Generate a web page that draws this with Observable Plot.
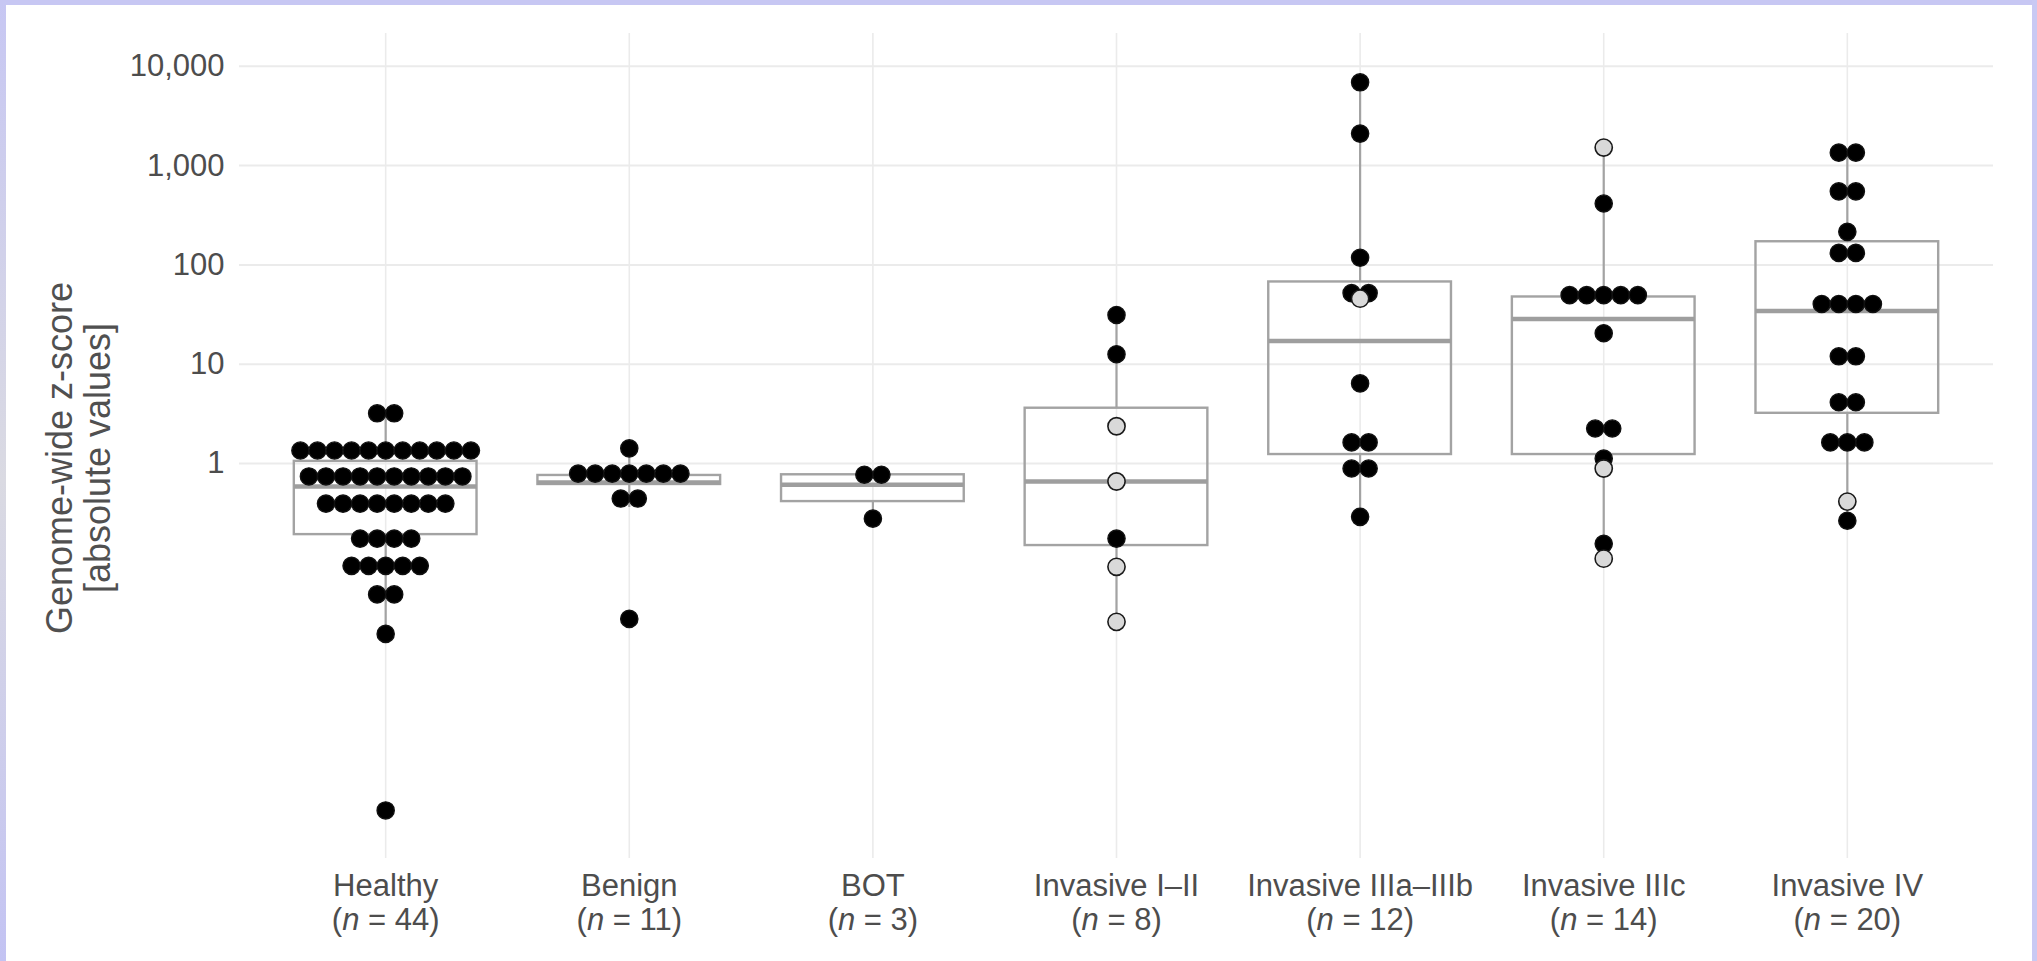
<!DOCTYPE html>
<html><head><meta charset="utf-8">
<script src="https://cdn.jsdelivr.net/npm/d3@7"></script>
<script src="https://cdn.jsdelivr.net/npm/@observablehq/plot@0.6"></script>
<style>
html,body{margin:0;padding:0;background:#fff;width:2037px;height:961px;overflow:hidden;}
#chart{position:absolute;left:0;top:0;}
.b{position:absolute;}
</style></head><body>
<div id="chart"></div>
<div class="b" style="left:0;top:0;width:2037px;height:5px;background:#c7c7f3"></div>
<div class="b" style="left:0;top:0;width:6px;height:961px;background:linear-gradient(#c7c7f3,#dadae2 50%,#c3c3f3)"></div>
<div class="b" style="right:0;top:0;width:5px;height:961px;background:#c9c9f3"></div>
<script>
// ---- data ----
const categories = ["Healthy", "Benign", "BOT", "Invasive I\u2013II", "Invasive IIIa\u2013IIIb", "Invasive IIIc", "Invasive IV"];
const sampleSizes = [44, 11, 3, 8, 12, 14, 20];
const yTicks = [1, 10, 100, 1000, 10000];

// dot values (black = filled, open = light grey)
const healthyBlack = [3.2, 3.2,
  1.35, 1.35, 1.35, 1.35, 1.35, 1.35, 1.35, 1.35, 1.35, 1.35, 1.35,
  0.74, 0.74, 0.74, 0.74, 0.74, 0.74, 0.74, 0.74, 0.74, 0.74,
  0.394, 0.394, 0.394, 0.394, 0.394, 0.394, 0.394, 0.394,
  0.175, 0.175, 0.175, 0.175,
  0.093, 0.093, 0.093, 0.093, 0.093,
  0.048, 0.048, 0.0192, 0.00032];
const healthyOpen = [];
const benignBlack = [1.42, 0.79, 0.79, 0.79, 0.79, 0.79, 0.79, 0.79, 0.443, 0.443, 0.0272];
const benignOpen = [];
const botBlack = [0.77, 0.77, 0.278];
const botOpen = [];
const inv12Black = [31.3, 12.6, 0.175];
const inv12Open = [2.37, 0.658, 0.091, 0.0254];
const inv3abBlack = [6900, 2100, 118, 52, 52, 6.4, 1.63, 1.63, 0.89, 0.89, 0.29];
const inv3abOpen = [45.7];
const inv3cBlack = [415, 49.6, 49.6, 49.6, 49.6, 49.6, 20.5, 2.25, 2.25, 1.12, 0.155];
const inv3cOpen = [1520, 0.89, 0.11];
const inv4Black = [1350, 1350, 550, 550, 215, 132, 132, 40.4, 40.4, 40.4, 40.4, 12, 12, 4.13, 4.13, 1.63, 1.63, 1.63, 0.265];
const inv4Open = [0.413];

// box plot statistics
const boxQ1 = [0.192, 0.614, 0.413, 0.149, 1.23, 1.23, 3.2];
const boxMedian = [0.586, 0.643, 0.61, 0.658, 17.1, 28.5, 34.3];
const boxQ3 = [1.05, 0.757, 0.769, 3.6, 67.3, 47.5, 171];
const whiskerLow = [0.0192, 0.36, 0.278, 0.0254, 0.29, 0.11, 0.265];
const whiskerHigh = [3.2, 1.42, 0.77, 31.3, 6900, 1520, 1350];

// ---- build tables ----
const groupsBlack = [healthyBlack, benignBlack, botBlack, inv12Black, inv3abBlack, inv3cBlack, inv4Black];
const groupsOpen = [healthyOpen, benignOpen, botOpen, inv12Open, inv3abOpen, inv3cOpen, inv4Open];
const dotStep = 0.07;   // horizontal spacing of stacked dots, in category units
const boxHalf = 0.375;  // half box width, in category units

function stack(values, i, open, out) {
  const counts = d3.rollup(values, v => v.length, d => d);
  for (const [v, m] of counts) {
    for (let k = 0; k < m; k++) out.push({x: i + (k - (m - 1) / 2) * dotStep, v, open});
  }
}
const blackDots = [], openDots = [];
groupsBlack.forEach((vals, i) => stack(vals, i, false, blackDots));
groupsOpen.forEach((vals, i) => stack(vals, i, true, openDots));

const boxes = categories.map((c, i) => ({i, q1: boxQ1[i], med: boxMedian[i], q3: boxQ3[i], lo: whiskerLow[i], hi: whiskerHigh[i]}));
const catIdx = categories.map((c, i) => i);

const grey = "#a3a3a3";
const chart = Plot.plot({
  width: 2037, height: 961,
  marginLeft: 239, marginRight: 44, marginTop: 33, marginBottom: 103,
  x: {domain: [-0.6, 6.6], axis: null},
  y: {type: "log", domain: [0.000105, 21400], axis: null},
  style: {fontFamily: "'Liberation Sans', Arial, sans-serif", background: "transparent", color: "#4d4d4d"},
  marks: [
    Plot.ruleY(yTicks, {stroke: "#ebebeb", strokeWidth: 2}),
    Plot.ruleX(catIdx, {stroke: "#ebebeb", strokeWidth: 1.6}),
    Plot.text(yTicks, {y: d => d, frameAnchor: "left", textAnchor: "end", dx: -15, text: d => d3.format(",")(d), fontSize: 31, fill: "#4d4d4d"}),
    Plot.ruleX(boxes, {x: "i", y1: "q3", y2: "hi", stroke: grey, strokeWidth: 2.2}),
    Plot.ruleX(boxes, {x: "i", y1: "q1", y2: "lo", stroke: grey, strokeWidth: 2.2}),
    Plot.rect(boxes, {x1: d => d.i - boxHalf, x2: d => d.i + boxHalf, y1: "q1", y2: "q3", fill: "none", stroke: grey, strokeWidth: 2.4}),
    Plot.ruleY(boxes, {y: "med", x1: d => d.i - boxHalf, x2: d => d.i + boxHalf, stroke: "#9e9e9e", strokeWidth: 4.5}),
    Plot.dot(blackDots, {x: "x", y: "v", r: 8.6, fill: "#000", stroke: "#111", strokeWidth: 1.4}),
    Plot.dot(openDots, {x: "x", y: "v", r: 8.6, fill: "#d9d9d9", stroke: "#1a1a1a", strokeWidth: 1.6}),
    Plot.text(catIdx, {x: d => d, frameAnchor: "bottom", lineAnchor: "top", dy: 13, lineHeight: 1.1,
      text: d => categories[d] + "\n(n = " + sampleSizes[d] + ")", fontSize: 31, fill: "#4d4d4d"}),
    Plot.text(["Genome-wide z-score\n[absolute values]"], {frameAnchor: "left", textAnchor: "middle", rotate: -90, dx: -161, dy: 12,
      lineAnchor: "middle", lineHeight: 1.05, fontSize: 36, fill: "#505050", text: d => d})
  ]
});
document.getElementById("chart").appendChild(chart);

// italicise the "n" in the sample-size lines
chart.querySelectorAll("tspan").forEach(t => {
  const s = t.textContent;
  if (s.startsWith("(n = ")) {
    t.textContent = "";
    t.appendChild(document.createTextNode("("));
    const it = document.createElementNS("http://www.w3.org/2000/svg", "tspan");
    it.setAttribute("font-style", "italic");
    it.textContent = "n";
    t.appendChild(it);
    t.appendChild(document.createTextNode(s.slice(2)));
  }
});
</script>
</body></html>
